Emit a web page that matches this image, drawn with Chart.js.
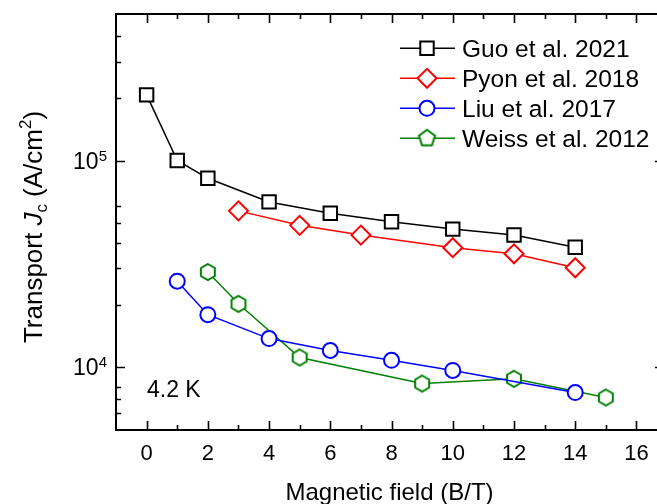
<!DOCTYPE html>
<html><head><meta charset="utf-8">
<script src="https://cdn.jsdelivr.net/npm/chart.js@4/dist/chart.umd.min.js"></script>
<style>
html,body{margin:0;padding:0;background:#fff;overflow:hidden;width:657px;height:504px}
#wrap{position:relative;width:700px;height:504px}
#c{display:block;width:700px;height:504px}
</style>
</head><body><div id="wrap"><canvas id="c" width="700" height="504"></canvas></div>
<script>
// ---- data ----
const guoB   = [0, 1, 2, 4, 6, 8, 10, 12, 14];
const guoJc  = [2.08e5, 1.0e5, 8.2e4, 6.3e4, 5.55e4, 5.05e4, 4.65e4, 4.35e4, 3.8e4];
const pyonB  = [3, 5, 7, 10, 12, 14];
const pyonJc = [5.7e4, 4.85e4, 4.35e4, 3.78e4, 3.53e4, 3.02e4];
const liuB   = [1, 2, 4, 6, 8, 10, 14];
const liuJc  = [2.6e4, 1.79e4, 1.37e4, 1.2e4, 1.075e4, 9.6e3, 7.5e3];
const weissB = [2, 3, 5, 9, 12, 15];
const weissJc= [2.88e4, 2.02e4, 1.11e4, 8.3e3, 8.75e3, 7.1e3];
const seriesNames = ['Guo et al. 2021', 'Pyon et al. 2018', 'Liu et al. 2017', 'Weiss et al. 2012'];
const xTickValues = [0, 2, 4, 6, 8, 10, 12, 14, 16];
const xMinorValues = [1, 3, 5, 7, 9, 11, 13, 15];
const yMajorValues = [1e4, 1e5];
const yMajorLabels = [['10','4'], ['10','5']];
const yMinorValues = [6e3, 7e3, 8e3, 2e4, 3e4, 4e4, 5e4, 6e4, 2e5, 3e5, 4e5];
const tempLabel = '4.2 K';

const FONT = "'Liberation Sans', Arial, sans-serif";
const GREEN = '#008000';

function polyCanvas(n, r, color, rot) {
  const s = Math.ceil(r * 2 + 6);
  const c = document.createElement('canvas');
  c.width = s; c.height = s;
  const g = c.getContext('2d');
  g.beginPath();
  for (let i = 0; i < n; i++) {
    const a = rot + i * 2 * Math.PI / n;
    const px = s / 2 + r * Math.cos(a), py = s / 2 + r * Math.sin(a);
    i ? g.lineTo(px, py) : g.moveTo(px, py);
  }
  g.closePath();
  g.fillStyle = '#fff'; g.fill();
  g.lineWidth = 2; g.strokeStyle = color; g.lineJoin = 'miter'; g.stroke();
  return c;
}
const hexImg = polyCanvas(6, 8, GREEN, -Math.PI / 2);
const pentImg = polyCanvas(5, 8.5, GREEN, -Math.PI / 2);

const toXY = (xs, ys) => xs.map((x, i) => ({x, y: ys[i]}));

const legendItems = [
  {color: '#000', style: 'rect', radius: 9.5},
  {color: '#ff0000', style: 'rectRot', radius: 9.5},
  {color: '#0000ff', style: 'circle', radius: 7.5},
  {color: GREEN, style: pentImg, radius: 8}
];

const framePlugin = {
  id: 'frame',
  afterDraw(chart) {
    const {ctx, chartArea: a, scales: {x, y}} = chart;
    ctx.save();
    ctx.strokeStyle = '#000';
    ctx.lineWidth = 2;
    ctx.strokeRect(a.left, a.top, a.right - a.left, a.bottom - a.top);
    ctx.lineWidth = 1.6;
    const MAJ = 9, MIN = 5;
    ctx.beginPath();
    const xt = (v, L) => { const p = Math.round(x.getPixelForValue(v)) + 0.5;
      ctx.moveTo(p, a.bottom); ctx.lineTo(p, a.bottom - L);
      ctx.moveTo(p, a.top); ctx.lineTo(p, a.top + L); };
    const yt = (v, L) => { const p = Math.round(y.getPixelForValue(v)) + 0.5;
      ctx.moveTo(a.left, p); ctx.lineTo(a.left + L, p);
      ctx.moveTo(a.right, p); ctx.lineTo(a.right - L, p); };
    xTickValues.forEach(v => xt(v, MAJ));
    xMinorValues.forEach(v => xt(v, MIN));
    yMajorValues.forEach(v => yt(v, MAJ));
    yMinorValues.forEach(v => yt(v, MIN));
    ctx.stroke();

    // y tick labels with superscripts
    ctx.fillStyle = '#000';
    ctx.textAlign = 'right';
    ctx.textBaseline = 'alphabetic';
    yMajorValues.forEach((v, i) => {
      const p = y.getPixelForValue(v);
      ctx.font = '15px ' + FONT;
      const w = ctx.measureText(yMajorLabels[i][1]).width;
      ctx.fillText(yMajorLabels[i][1], 107, p);
      ctx.font = '23px ' + FONT;
      ctx.fillText(yMajorLabels[i][0], 107 - w, p + 8.5);
    });

    // temperature label
    ctx.textAlign = 'left';
    ctx.font = '23px ' + FONT;
    ctx.fillText(tempLabel, a.left + 31, a.bottom - 33);

    // x title
    ctx.textAlign = 'center';
    ctx.font = '24px ' + FONT;
    ctx.fillText('Magnetic field (B/T)', 389.5, 500);

    // y title (rotated, mixed styles)
    ctx.save();
    ctx.translate(42, 227);
    ctx.rotate(-Math.PI / 2);
    const parts = [
      {t: 'Transport ', f: '26px ' + FONT, dy: 0},
      {t: 'J', f: 'italic 26px ' + FONT, dy: 0},
      {t: 'c', f: '17px ' + FONT, dy: 5},
      {t: ' (A/cm', f: '26px ' + FONT, dy: 0},
      {t: '2', f: '17px ' + FONT, dy: -11},
      {t: ')', f: '26px ' + FONT, dy: 0}
    ];
    let tw = 0;
    parts.forEach(p => { ctx.font = p.f; p.w = ctx.measureText(p.t).width; tw += p.w; });
    let cx = -tw / 2;
    ctx.textAlign = 'left';
    parts.forEach(p => { ctx.font = p.f; ctx.fillText(p.t, cx, p.dy); cx += p.w; });
    ctx.restore();

    // legend
    const rows = [48.3, 78.3, 108.3, 138.3];
    legendItems.forEach((it, i) => {
      const ry = rows[i];
      ctx.strokeStyle = it.color;
      ctx.lineWidth = 1.5;
      ctx.beginPath(); ctx.moveTo(400, ry); ctx.lineTo(455, ry); ctx.stroke();
      ctx.fillStyle = '#fff';
      ctx.lineWidth = 2;
      Chart.helpers.drawPoint(ctx, {pointStyle: it.style, radius: it.radius, borderWidth: 2, rotation: 0}, 427, ry);
      ctx.fillStyle = '#000';
      ctx.font = '24.5px ' + FONT;
      ctx.textAlign = 'left';
      ctx.fillText(seriesNames[i], 462, ry + 8.5);
    });
    ctx.restore();
  }
};

const ds = (label, xs, ys, color, style, r) => ({
  label, data: toXY(xs, ys), borderColor: color, backgroundColor: '#fff',
  borderWidth: 1.5, pointStyle: style, pointRadius: r, pointHoverRadius: r,
  pointBorderWidth: 2, pointBorderColor: color, pointBackgroundColor: '#fff',
  tension: 0, fill: false
});

new Chart(document.getElementById('c'), {
  type: 'line',
  data: {
    datasets: [
      ds(seriesNames[0], guoB, guoJc, '#000', 'rect', 9.5),
      ds(seriesNames[1], pyonB, pyonJc, '#ff0000', 'rectRot', 9.5),
      ds(seriesNames[2], liuB, liuJc, '#0000ff', 'circle', 7.5),
      ds(seriesNames[3], weissB, weissJc, GREEN, hexImg, 8)
    ]
  },
  options: {
    responsive: false,
    maintainAspectRatio: false,
    animation: false,
    devicePixelRatio: 1,
    layout: {padding: {left: 0, top: 14, right: 36, bottom: 0}},
    plugins: {legend: {display: false}, tooltip: {enabled: false}},
    scales: {
      x: {
        type: 'linear', min: -1, max: 16.9,
        grid: {display: false}, border: {display: false},
        afterBuildTicks: s => { s.ticks = xTickValues.map(v => ({value: v})); },
        afterFit: s => { s.height = 74; },
        ticks: {font: {family: FONT, size: 22}, color: '#000', padding: 3, maxRotation: 0, autoSkip: false}
      },
      y: {
        type: 'logarithmic', min: 4940, max: 5.13e5,
        grid: {display: false}, border: {display: false},
        ticks: {display: false},
        afterFit: s => { s.width = 116; }
      }
    }
  },
  plugins: [framePlugin]
});
</script>
</body></html>
